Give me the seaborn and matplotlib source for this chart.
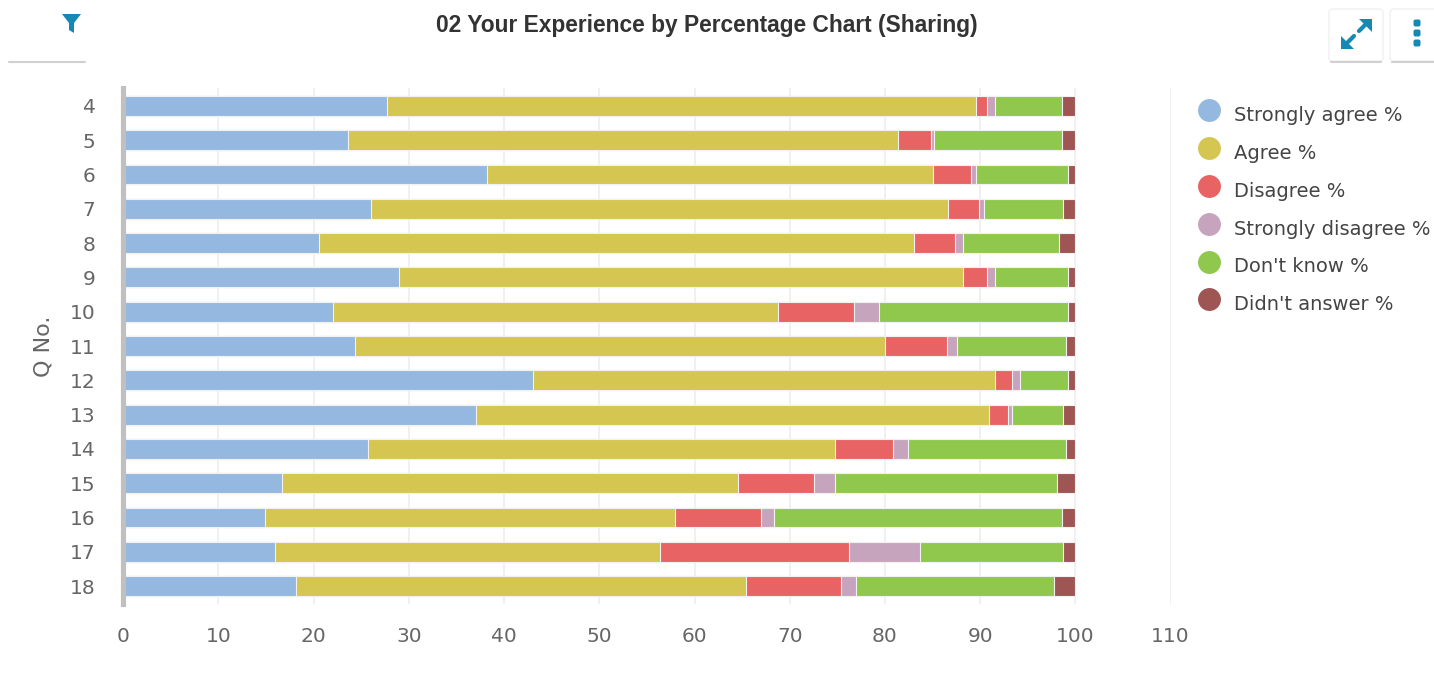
import matplotlib
matplotlib.use('Agg')
import matplotlib.pyplot as plt
from matplotlib.lines import Line2D
from matplotlib.legend_handler import HandlerLine2D
from matplotlib.patches import FancyBboxPatch, Polygon
import numpy as np
import pandas as pd
import seaborn as sns

questions = ['4', '5', '6', '7', '8', '9', '10', '11', '12', '13', '14', '15', '16', '17', '18']
series_names = ['Strongly agree %', 'Agree %', 'Disagree %', 'Strongly disagree %', "Don't know %", "Didn't answer %"]
strongly_agree = [27.7, 23.6, 38.2, 26.0, 20.6, 29.0, 22.0, 24.3, 43.0, 37.0, 25.7, 16.7, 14.9, 15.9, 18.1]
agree = [61.9, 57.8, 46.8, 60.6, 62.4, 59.2, 46.8, 55.7, 48.6, 53.9, 49.1, 47.9, 43.1, 40.5, 47.3]
disagree = [1.1, 3.4, 4.0, 3.3, 4.4, 2.5, 7.9, 6.5, 1.7, 2.0, 6.0, 7.9, 9.0, 19.8, 10.0]
strongly_disagree = [0.9, 0.4, 0.6, 0.5, 0.8, 0.9, 2.7, 1.1, 0.9, 0.4, 1.6, 2.3, 1.4, 7.5, 1.6]
dont_know = [7.0, 13.4, 9.6, 8.3, 10.1, 7.6, 19.8, 11.4, 5.0, 5.4, 16.6, 23.3, 30.2, 15.0, 20.8]
didnt_answer = [1.4, 1.4, 0.8, 1.3, 1.7, 0.8, 0.8, 1.0, 0.8, 1.3, 1.0, 1.9, 1.4, 1.3, 2.2]
colors = ['#94b8e0', '#d4c650', '#e86464', '#c7a4be', '#90c84e', '#a05555']
x_ticks = [0, 10, 20, 30, 40, 50, 60, 70, 80, 90, 100, 110]


class RaisedMarker(HandlerLine2D):
    # legend dots sit a little above the text baseline in the original
    def create_artists(self, legend, orig_handle, xdescent, ydescent, width, height, fontsize, trans):
        return super().create_artists(legend, orig_handle, xdescent, ydescent - 5.8, width, height, fontsize, trans)


sns.set_theme(style='white')
plt.rcParams['font.family'] = ['DejaVu Sans']

W, H = 1434, 680
fig = plt.figure(figsize=(W / 100, H / 100), dpi=100)
ax = fig.add_axes([123.2 / W, 1 - 604 / H, (1170.6 - 123.2) / W, (604 - 88) / H])

df = pd.DataFrame({'q': questions})
values = [strongly_agree, agree, disagree, strongly_disagree, dont_know, didnt_answer]
totals = np.cumsum(np.array(values), axis=0)
totals[-1] = 100  # rows were read to the 100 mark

# stacked bars: draw the longest cumulative first, shorter ones on top
for i in range(len(series_names) - 1, -1, -1):
    df['total'] = totals[i]
    sns.barplot(data=df, y='q', x='total', order=questions, color=colors[i], saturation=1,
                width=0.58, edgecolor='#f1f1f1', linewidth=0.8, ax=ax, zorder=3)

ax.set_xlim(0, 110)
ax.set_ylim(14.52, -0.52)
ax.set_xticks(x_ticks)
ax.grid(axis='x', color='#eeeeee', linewidth=1.2, zorder=0)
ax.grid(axis='y', visible=False)
ax.set_axisbelow(True)
for side in ['top', 'right', 'bottom']:
    ax.spines[side].set_visible(False)
ax.spines['left'].set_color('#c0c0c0')
ax.spines['left'].set_linewidth(3.7)
ax.spines['left'].set_zorder(5)
ax.tick_params(axis='x', length=0, pad=16.5, labelsize=14.5, labelcolor='#666666')
ax.tick_params(axis='y', length=0, pad=20, labelsize=14.5, labelcolor='#666666')
ax.set_xlabel('')
ax.set_ylabel('Q No.', fontsize=16, color='#666666', labelpad=11.5)

handles = [Line2D([], [], linestyle='', marker='o', markersize=16.5, color=c, markeredgewidth=0) for c in colors]
leg = fig.legend(handles, series_names, loc='upper left', bbox_to_anchor=(1196.4 / W, 1 - 106 / H),
                 bbox_transform=fig.transFigure, frameon=False, fontsize=14, labelcolor='#444444',
                 handlelength=1.3, handletextpad=0.63, labelspacing=0.97, borderpad=0, borderaxespad=0,
                 handler_map={Line2D: RaisedMarker()})

fig.text(706.5 / W, 1 - 25.5 / H, '02 Your Experience by Percentage Chart (Sharing)', ha='center', va='center',
         family=['Liberation Sans'], fontweight='bold', fontsize=16.4, color='#333333')

# toolbar buttons and icons around the chart, in pixel coordinates
ui = fig.add_axes([0, 0, 1, 1], zorder=-1)
ui.set_xlim(0, W)
ui.set_ylim(H, 0)
ui.axis('off')
ui.plot([9, 85], [62, 62], color='#d0d0d0', linewidth=1.5)
for x0, x1 in [(1329, 1383), (1390, 1450)]:
    ui.add_patch(FancyBboxPatch((x0, 9), x1 - x0, 52, boxstyle='round,pad=0,rounding_size=4',
                                facecolor='white', edgecolor='#f0f0f0', linewidth=1))
    ui.plot([x0 + 2, x1 - 2], [62, 62], color='#d0d0d0', linewidth=1.5)
blue = '#1589b3'
ui.add_patch(Polygon([[62, 14], [81, 14], [74, 23], [74, 33], [69, 30], [69, 23]], color=blue, lw=0))
ui.plot([1346, 1354], [44, 36], color=blue, linewidth=3)
ui.plot([1359, 1367], [31, 23], color=blue, linewidth=3)
ui.add_patch(Polygon([[1341, 49], [1341, 36], [1354, 49]], color=blue, lw=0))
ui.add_patch(Polygon([[1372, 19], [1372, 32], [1359, 19]], color=blue, lw=0))
for y in [23, 33, 43]:
    ui.add_patch(FancyBboxPatch((1413.5, y - 3.5), 7, 7, boxstyle='round,pad=0,rounding_size=2', color=blue, lw=0))

plt.savefig('out.png', dpi=100)
